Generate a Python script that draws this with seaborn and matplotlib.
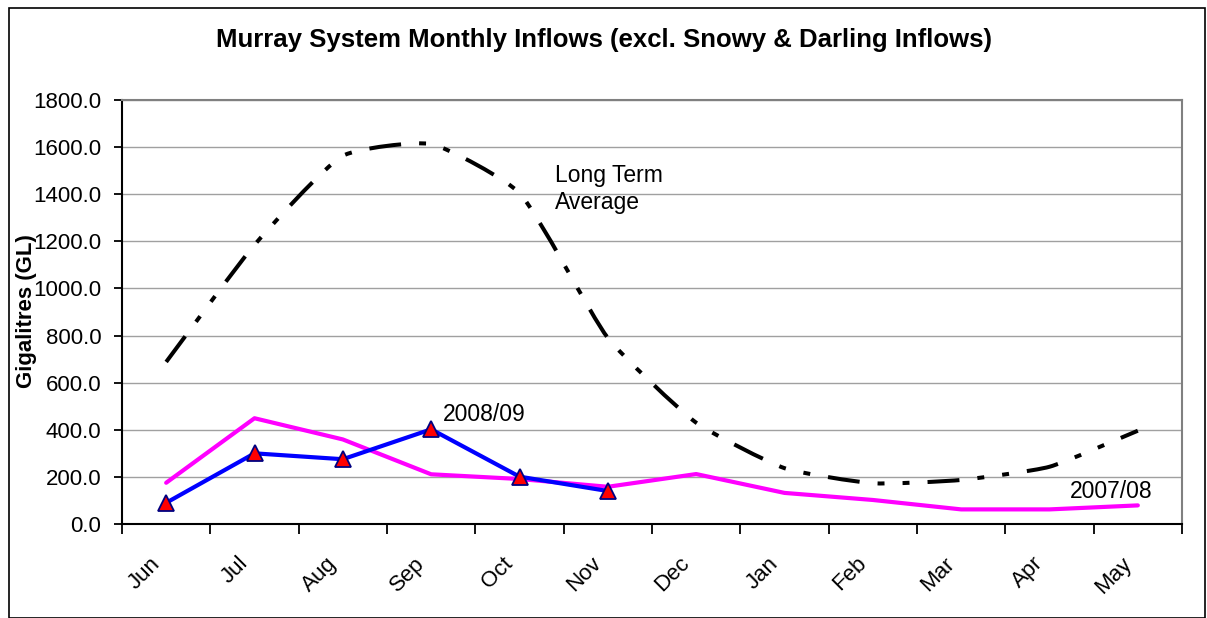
import numpy as np
import pandas as pd
import matplotlib
matplotlib.use("Agg")
import matplotlib.pyplot as plt
import matplotlib.transforms as mtransforms
from matplotlib.path import Path
from matplotlib.patches import PathPatch, Rectangle
import seaborn as sns

months = ["Jun", "Jul", "Aug", "Sep", "Oct", "Nov", "Dec", "Jan", "Feb", "Mar", "Apr", "May"]
long_term = [688, 1185, 1563, 1613, 1405, 790, 430, 237, 173, 187, 243, 396]
inflow_0708 = [175, 449, 359, 211, 191, 158, 212, 132, 102, 62, 62, 79]
inflow_0809 = [90, 300, 275, 402, 201, 140]

sns.set_theme(style="white")
plt.rcParams["font.family"] = ["Liberation Sans", "DejaVu Sans"]
plt.rcParams["lines.scale_dashes"] = False
plt.rcParams["text.color"] = "black"
plt.rcParams["xtick.color"] = "black"
plt.rcParams["ytick.color"] = "black"

fig = plt.figure(figsize=(12.07, 6.18), dpi=100)
ax = fig.add_axes([122 / 1207, 1 - 524 / 618, 1060 / 1207, 424 / 618])

pos = np.arange(len(months))

# long term average drawn as a smoothed line (bezier, tangents sized by segment length)
sx, sy = 1060 / len(months), 424 / 1800  # pixels per unit, only used to shape the curve
pts = np.column_stack([pos * sx, np.array(long_term) * sy]).astype(float)
t = 0.17


def unit(v):
    return v / np.hypot(*v)


verts = [pts[0]]
codes = [Path.MOVETO]
for i in range(len(pts) - 1):
    p0 = pts[i - 1] if i > 0 else pts[i]
    p1, p2 = pts[i], pts[i + 1]
    p3 = pts[i + 2] if i + 2 < len(pts) else pts[i + 1]
    seg = np.hypot(*(p2 - p1))
    verts += [p1 + unit(p2 - p0) * seg * t, p2 - unit(p3 - p1) * seg * t, p2]
    codes += [Path.CURVE4] * 3
verts = [(v[0] / sx, v[1] / sy) for v in verts]
ax.add_patch(PathPatch(Path(verts, codes), fill=False, edgecolor="black", lw=2.9,
                       linestyle=(0, (23, 13, 5, 13, 5, 13)), capstyle="butt", zorder=3))

df = pd.DataFrame({"month": pos, "value": inflow_0708})
sns.lineplot(data=df, x="month", y="value", color="#ff00ff", lw=3, ax=ax, zorder=4)

df2 = pd.DataFrame({"month": pos[:len(inflow_0809)], "value": inflow_0809})
sns.lineplot(data=df2, x="month", y="value", color="#0000ff", lw=3, marker="^",
             markersize=12, markerfacecolor="#ff0000", markeredgecolor="#000080",
             markeredgewidth=1.3, ax=ax, zorder=5)

ax.set_xlim(-0.5, len(months) - 0.5)
ax.set_ylim(0, 1800)
ax.set_yticks(np.arange(0, 1801, 200))
ax.set_yticklabels([f"{v:.1f}" for v in np.arange(0, 1801, 200)], fontsize=16)
ax.set_xticks(np.arange(-0.5, len(months), 1))
ax.set_xticklabels([])
ax.tick_params(axis="x", which="major", direction="out", length=7, width=1.3, color="black", bottom=True)
ax.tick_params(axis="y", direction="out", length=6, width=1.3, color="black", left=True, pad=9)
ax.grid(axis="y", color="#a0a0a0", lw=1)
ax.set_axisbelow(True)
ax.set_xlabel("")
ax.set_ylabel("")

# month names, rotated like the excel category axis
lab_trans = ax.get_xaxis_transform() + mtransforms.ScaledTranslation(-0.02, -0.29, fig.dpi_scale_trans)
for i, m in enumerate(months):
    ax.text(i, 0, m, transform=lab_trans, rotation=45, ha="right", va="top", fontsize=16)

for side in ["left", "bottom"]:
    ax.spines[side].set_color("black")
    ax.spines[side].set_linewidth(1.5)
for side in ["top", "right"]:
    ax.spines[side].set_color("#808080")
    ax.spines[side].set_linewidth(1.5)

ax.text(4.40, 1422, "Long Term\nAverage", fontsize=16.5, ha="left", va="center", linespacing=1.25)
ax.text(3.13, 465, "2008/09", fontsize=16.5, ha="left", va="center")
ax.text(11.17, 140, "2007/08", fontsize=16.5, ha="right", va="center")

fig.text(604 / 1207, 1 - 40 / 618, "Murray System Monthly Inflows (excl. Snowy & Darling Inflows)",
         fontsize=18.5, fontweight="bold", ha="center", va="center")
fig.text(27 / 1207, 1 - 311 / 618, "Gigalitres (GL)", fontsize=16, fontweight="bold",
         rotation=90, ha="center", va="center")

fig.add_artist(Rectangle((9 / 1207, 0), 1196 / 1207, 1 - 8 / 618, transform=fig.transFigure,
                         fill=False, edgecolor="black", lw=1.2))

fig.savefig("out.png", dpi=100)
